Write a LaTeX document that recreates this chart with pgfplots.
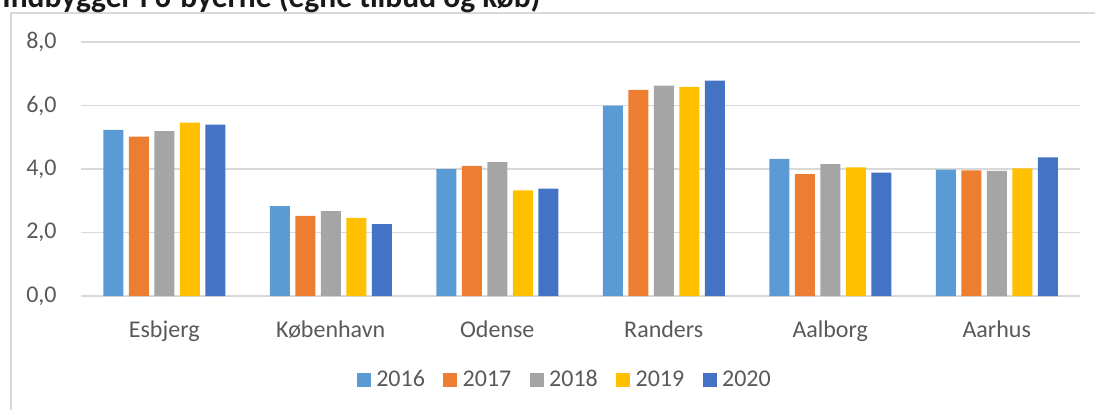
\documentclass[border=0pt]{standalone}
\usepackage{pgfplots}
\pgfplotsset{compat=1.18}
\usepackage{fontspec}
\setmainfont{Carlito}
\definecolor{c2016}{HTML}{5B9BD5}
\definecolor{c2017}{HTML}{ED7D31}
\definecolor{c2018}{HTML}{A5A5A5}
\definecolor{c2019}{HTML}{FFC000}
\definecolor{c2020}{HTML}{4472C4}
\definecolor{gridgray}{HTML}{D9D9D9}
\definecolor{txtgray}{HTML}{595959}
\begin{document}
\begin{tikzpicture}
\useasboundingbox (0,0) rectangle (547.5pt,-205pt);
\clip (0,0) rectangle (547.5pt,-205pt);
% chart frame
\draw[gridgray, line width=0.75pt] (5.5pt,-210pt) -- (5.5pt,-6.5pt) -- (560pt,-6.5pt);
% title (cut off at top, as in the reference)
\node[anchor=base west, inner sep=0pt, text=black!90] at (1pt,-3.7pt)
  {\resizebox{269pt}{!}{\bfseries Indbygger i 6-byerne (egne tilbud og køb)}};
\begin{axis}[
  at={(40.5pt,-148pt)}, anchor=south west,
  scale only axis, width=499.5pt, height=127pt,
  xmin=-0.5, xmax=5.5, ymin=0, ymax=8,
  enlargelimits=false,
  xtick={0,1,2,3,4,5},
  xticklabels={Esbjerg,København,Odense,Randers,Aalborg,Aarhus},
  ytick={0,2,4,6,8},
  axis line style={draw=none},
  tick style={draw=none},
  ymajorgrids,
  major grid style={gridgray, line width=0.75pt},
  ybar=2.75pt, bar width=10pt,
  /pgf/number format/.cd, fixed, fixed zerofill, precision=1, use comma, assume math mode=true,
  /pgfplots/.cd,
  ticklabel style={font=\fontsize{12}{14}\selectfont, text=txtgray},
  yticklabel style={anchor=east, inner sep=0pt, xshift=-12pt},
  xticklabel style={anchor=base, inner sep=0pt, yshift=-16.5pt},
  legend style={draw=none, fill=none, at={(0.4845,-0.331)}, anchor=center,
    legend columns=5, font=\fontsize{12}{14}\selectfont, text=txtgray,
    nodes={inner sep=1.2pt},
    /tikz/every odd column/.append style={column sep=1.5pt},
    /tikz/every even column/.append style={column sep=8pt}},
]
\addplot[fill=c2016, draw=none, legend image code/.code={\fill[c2016] (0pt,-3.5pt) rectangle (7pt,3.5pt);}]
  coordinates {(0,5.23) (1,2.83) (2,4.00) (3,6.00) (4,4.32) (5,3.98)};
\addplot[fill=c2017, draw=none, legend image code/.code={\fill[c2017] (0pt,-3.5pt) rectangle (7pt,3.5pt);}]
  coordinates {(0,5.02) (1,2.52) (2,4.10) (3,6.49) (4,3.84) (5,3.96)};
\addplot[fill=c2018, draw=none, legend image code/.code={\fill[c2018] (0pt,-3.5pt) rectangle (7pt,3.5pt);}]
  coordinates {(0,5.19) (1,2.67) (2,4.22) (3,6.63) (4,4.15) (5,3.94)};
\addplot[fill=c2019, draw=none, legend image code/.code={\fill[c2019] (0pt,-3.5pt) rectangle (7pt,3.5pt);}]
  coordinates {(0,5.46) (1,2.46) (2,3.33) (3,6.59) (4,4.05) (5,4.02)};
\addplot[fill=c2020, draw=none, legend image code/.code={\fill[c2020] (0pt,-3.5pt) rectangle (7pt,3.5pt);}]
  coordinates {(0,5.40) (1,2.26) (2,3.38) (3,6.78) (4,3.89) (5,4.37)};
\legend{2016,2017,2018,2019,2020}
\end{axis}
\end{tikzpicture}
\end{document}
